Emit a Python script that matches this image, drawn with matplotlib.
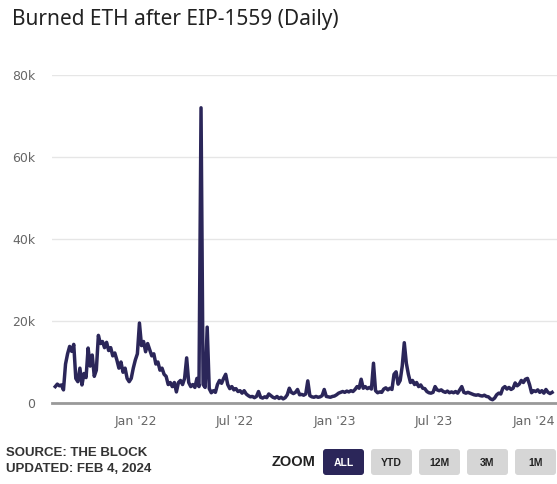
import matplotlib.pyplot as plt
from matplotlib.patches import FancyBboxPatch
import pandas as pd

# daily ETH burned (thousands), Aug 5 2021 -> Feb 4 2024
burned_k = [
    4.0, 4.6, 4.2, 4.4, 3.2, 9.5, 12.0, 13.8, 12.6, 14.3,
    6.0, 5.2, 8.5, 4.4, 7.2, 6.2, 13.4, 9.0, 11.7, 6.5,
    8.0, 16.5, 14.5, 15.0, 13.5, 14.8, 12.8, 13.5, 11.5, 12.2,
    10.5, 8.5, 10.0, 7.5, 8.5, 6.0, 5.2, 6.0, 8.5, 10.5,
    12.0, 19.5, 14.0, 15.0, 12.5, 14.5, 13.0, 11.5, 12.0, 9.5,
    10.0, 8.0, 8.5, 7.0, 6.5, 4.5, 5.0, 4.0, 5.0, 2.7,
    5.0, 5.5, 4.5, 6.0, 11.0, 5.0, 4.0, 4.5, 3.8, 6.0,
    4.0, 72.0, 4.5, 3.8, 18.5, 3.5, 2.5, 3.0, 2.6, 4.5,
    5.5, 4.8, 6.0, 7.0, 4.5, 3.5, 4.0, 3.2, 3.5, 2.8,
    3.0, 2.4, 3.0, 2.2, 1.8, 1.5, 1.6, 1.3, 1.6, 2.8,
    1.4, 1.2, 1.5, 1.3, 2.2, 1.8, 1.4, 1.2, 1.6, 1.1,
    1.4, 1.0, 1.3, 2.0, 3.6, 2.6, 2.3, 2.6, 3.3, 2.0,
    2.1, 1.9, 2.2, 5.4, 1.8, 1.5, 1.4, 1.6, 1.4, 1.5,
    1.8, 3.3, 1.6, 1.5, 1.4, 1.6, 1.7, 2.0, 2.4, 2.6,
    2.8, 2.6, 2.9, 2.7, 3.0, 2.8, 3.3, 4.0, 3.6, 5.8,
    3.6, 4.0, 3.5, 3.8, 3.4, 9.7, 3.0, 2.5, 2.7, 2.6,
    3.4, 3.7, 3.2, 3.6, 3.3, 7.0, 7.6, 4.6, 5.5, 9.0,
    14.7, 9.7, 7.0, 5.0, 5.5, 4.5, 5.0, 4.0, 4.4, 3.6,
    3.5, 2.8, 2.5, 2.4, 2.6, 4.0, 3.2, 3.0, 3.2, 2.8,
    2.6, 2.9, 2.5, 2.7, 2.5, 2.8, 2.4, 3.2, 4.0, 2.6,
    2.4, 2.6, 2.4, 2.2, 2.0, 1.9, 2.0, 1.8, 1.7, 1.9,
    1.6, 1.5, 1.0, 0.8, 1.2, 2.0, 2.4, 2.2, 3.6, 4.0,
    3.4, 3.8, 3.3, 3.6, 4.9, 4.2, 4.6, 5.5, 5.0, 5.8,
    6.0, 4.5, 2.5, 3.0, 2.8, 3.2, 2.6, 3.0, 2.4, 3.3,
    2.6, 2.3, 2.6,
]
dates = pd.date_range('2021-08-05', '2024-02-04', periods=len(burned_k))
burned = [v * 1000 for v in burned_k]

y_ticks = [0, 20000, 40000, 60000, 80000]
y_labels = ['0', '20k', '40k', '60k', '80k']
x_ticks = pd.to_datetime(['2022-01-01', '2022-07-01', '2023-01-01', '2023-07-01', '2024-01-01'])
x_labels = ["Jan '22", "Jul '22", "Jan '23", "Jul '23", "Jan '24"]
buttons = ['ALL', 'YTD', '12M', '3M', '1M']

W, H = 557, 484
line_color = '#2b2659'

fig = plt.figure(figsize=(W / 100, H / 100), dpi=100)
ax = fig.add_axes([52 / W, 1 - 403 / H, (W - 52) / W, (403 - 75) / H])
ax.plot(dates, burned, color=line_color, lw=2.5, solid_joinstyle='round')
ax.set_ylim(0, 80000)
ax.set_xlim(dates[0] - pd.Timedelta(days=6), dates[-1] + pd.Timedelta(days=9))
ax.set_yticks(y_ticks)
ax.set_yticklabels(y_labels)
ax.set_xticks(x_ticks)
ax.set_xticklabels(x_labels)
ax.tick_params(axis='both', length=0, colors='#666666', labelsize=9)
ax.tick_params(axis='y', pad=12)
ax.tick_params(axis='x', pad=9)
ax.grid(axis='y', color='#e6e6e6', lw=1)
ax.set_axisbelow(True)
for s in ['top', 'right', 'left']:
    ax.spines[s].set_visible(False)
ax.spines['bottom'].set_color('#999999')
ax.spines['bottom'].set_linewidth(2)

# title and footer, positioned in pixel space
ov = fig.add_axes([0, 0, 1, 1], zorder=-1)
ov.set_xlim(0, W)
ov.set_ylim(H, 0)
ov.axis('off')
ov.text(12, 20, 'Burned ETH after EIP-1559 (Daily)', fontsize=15, family='Noto Sans',
        color='#222222', va='center', ha='left')
ov.text(6, 453, 'SOURCE: THE BLOCK', fontsize=9.5, family='Liberation Sans',
        weight='bold', color='#333333', va='center')
ov.text(6, 469, 'UPDATED: FEB 4, 2024', fontsize=9.5, family='Liberation Sans',
        weight='bold', color='#333333', va='center')
ov.text(272, 462, 'ZOOM', fontsize=10.5, family='Liberation Sans',
        weight='bold', color='#222222', va='center')

bx = 323
for name in buttons:
    active = name == 'ALL'
    ov.add_patch(FancyBboxPatch((bx, 449), 41, 26, boxstyle='round,pad=0,rounding_size=3',
                                fc=line_color if active else '#d6d6d6', ec='none'))
    ov.text(bx + 20.5, 462.5, name, fontsize=7.5, family='Liberation Sans', weight='bold',
            color='white' if active else '#222222', ha='center', va='center')
    bx += 48

fig.savefig('out.png', dpi=100)
